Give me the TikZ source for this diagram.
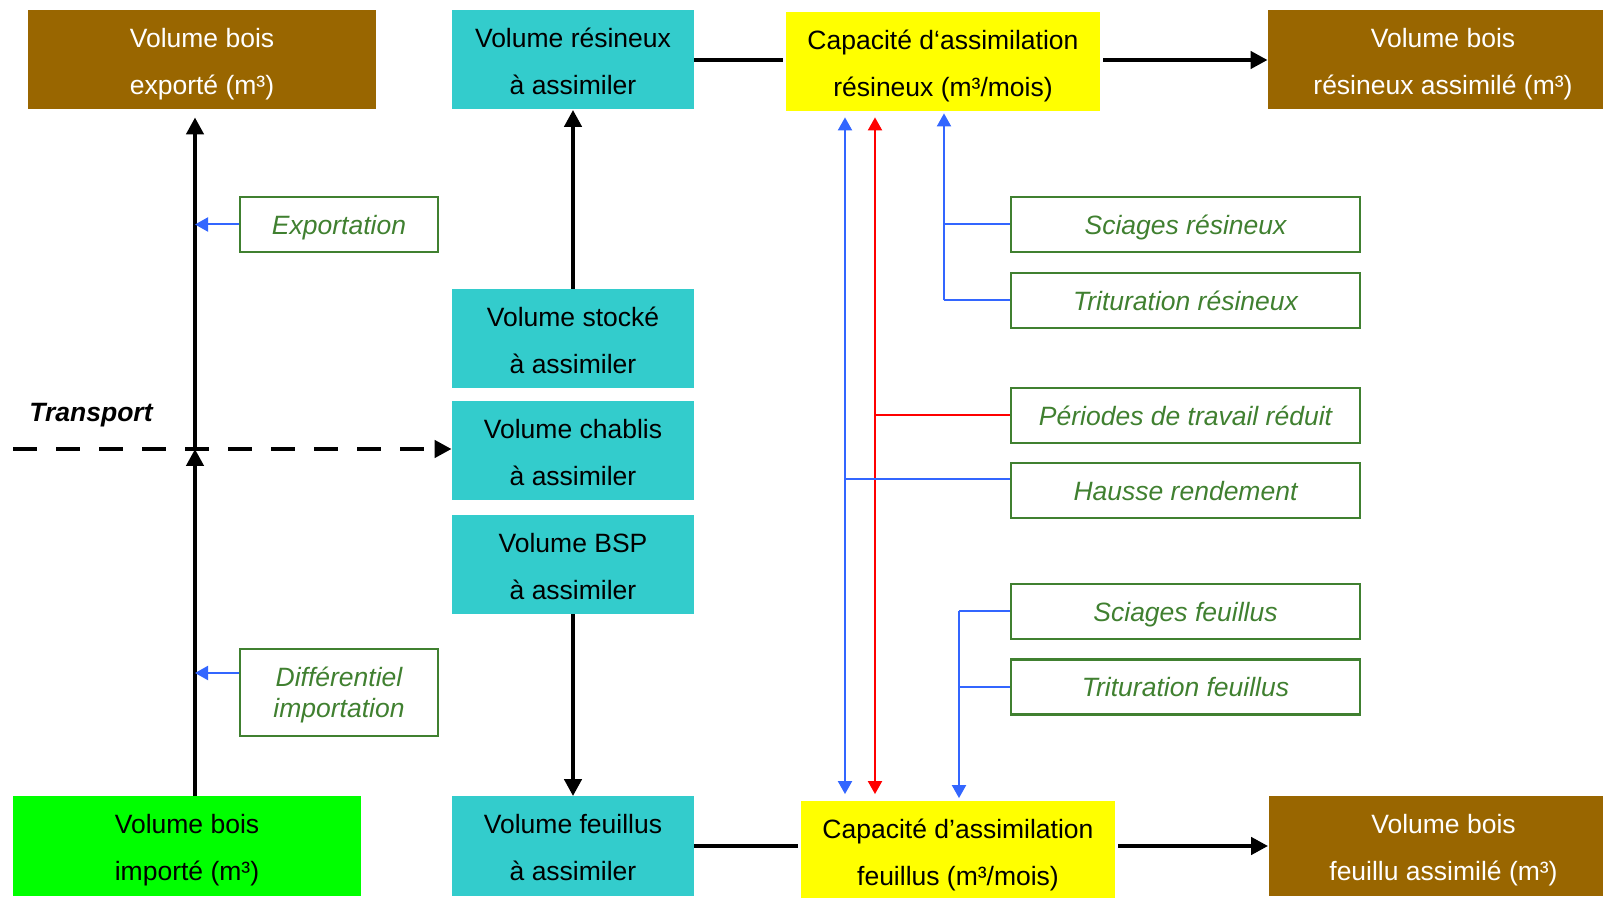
\documentclass[tikz,border=0pt]{standalone}
\usepackage{fontspec}
\setmainfont{Liberation Sans}
\usetikzlibrary{arrows.meta}
\definecolor{brun}{RGB}{153,102,0}
\definecolor{turq}{RGB}{51,204,204}
\definecolor{jaune}{RGB}{255,255,0}
\definecolor{vif}{RGB}{0,255,0}
\definecolor{vert}{RGB}{64,128,48}
\definecolor{bleu}{RGB}{51,102,255}
\tikzset{
	boite/.style={minimum height=49.5pt, inner sep=0pt, align=center,
		text height=35pt, text depth=0.3pt,
		font=\fontsize{13.25}{23.5}\selectfont},
	bois/.style={boite, fill=brun, text=white, minimum width=174pt},
	vol/.style={boite, fill=turq, minimum width=121pt},
	capac/.style={boite, fill=jaune, minimum width=157pt},
	levier/.style={draw=vert, line width=1.2pt, text=vert, inner sep=0pt,
		minimum width=174.5pt, minimum height=27.5pt, align=center,
		text height=10pt, text depth=0.3pt,
		font=\fontsize{13.25}{15.5}\selectfont\itshape},
	flux/.style={line width=2.3pt, -{Triangle[length=8.5pt,width=8.5pt]}},
	trait/.style={line width=2.3pt},
	lien/.style={line width=1pt, -{Triangle[length=6.5pt,width=7pt]}}
}
\newcommand{\branche}[3]{\draw[#1, line width=1pt] (#2) -- (#2 -| #3)}

\begin{document}
\begin{tikzpicture}[x=0.5pt, y=-0.5pt]
	\useasboundingbox (0,0) rectangle (1603,898);
	% colonne de gauche
	\node[bois] (exporte) at (202,59.5) {Volume bois\\exporté (m³)};
	\node[boite, fill=vif, minimum width=174pt] (importe) at (187,846) {Volume bois\\importé (m³)};
	\node[levier, minimum width=98.75pt] (expo) at (339,224.5) {Exportation};
	\node[levier, minimum width=98.75pt, minimum height=43.5pt, text height=25.5pt] (diff) at (339,692.5) {Différentiel\\importation};
	\node[font=\fontsize{13.25}{15.5}\selectfont\bfseries\itshape] (transp) at (91,415) {Transport};
	\coordinate (croix) at (195,449);
	\coordinate (tdeb) at (13,449);
	% volumes
	\node[vol] (resin) at (573,60) {Volume résineux\\à assimiler};
	\node[vol] (stocke) at (573,338.5) {Volume stocké\\à assimiler};
	\node[vol] (chablis) at (573,451) {Volume chablis\\à assimiler};
	\node[vol] (bsp) at (573,564.5) {Volume BSP\\à assimiler};
	\node[vol] (feuil) at (573,846) {Volume feuillus\\à assimiler};
	% capacites
	\node[capac] (capres) at (943,61.5) {Capacité d‘assimilation\\résineux (m³/mois)};
	\node[capac] (capfeu) at (958,851) {Capacité d’assimilation\\feuillus (m³/mois)};
	\node[bois, minimum width=175pt] (resass) at (1443,60) {Volume bois\\résineux assimilé (m³)};
	\node[bois, minimum width=175pt] (feuass) at (1443.5,846) {Volume bois\\feuillu assimilé (m³)};
	% leviers
	\node[levier] (scires) at (1185.5,224.5) {Sciages résineux};
	\node[levier] (trires) at (1185.5,300.5) {Trituration résineux};
	\node[levier] (peri) at (1185.5,415.5) {Périodes de travail réduit};
	\node[levier] (hausse) at (1185.5,490.5) {Hausse rendement};
	\node[levier] (scifeu) at (1185.5,611.5) {Sciages feuillus};
	\node[levier] (trifeu) at (1185.5,687) {Trituration feuillus};
	\coordinate (vh) at (845,0);
	\coordinate (vp) at (875,0);
	\coordinate (vr) at (944,0);
	\coordinate (vf) at (959,0);
	\coordinate (h) at ([yshift=5.75pt]hausse.west);
	\coordinate (d) at ([yshift=9.75pt]diff.west);

	% flux principaux
	\draw[flux] (importe.north -| croix) -- (croix);
	\draw[flux, shorten >=4pt] (croix) -- (exporte.south -| croix);
	\draw[flux, dash pattern=on 12pt off 9.5pt] (tdeb) -- (tdeb -| chablis.west);
	\draw[flux] (stocke) -- (resin);
	\draw[flux] (bsp) -- (feuil);
	\draw[trait, shorten >=1.5pt] (resin.east) -- (resin.east -| capres.west);
	\draw[flux, shorten <=1.5pt] (capres.east |- resin.east) -- (resass.west);
	\draw[trait, shorten >=1.5pt] (feuil.east) -- (feuil.east -| capfeu.west);
	\draw[flux, shorten <=1.5pt] (capfeu.east |- feuil.east) -- (feuass.west);

	% leviers
	\draw[lien, bleu] (expo.west) -- (expo.west -| croix);
	\draw[lien, bleu] (d) -- (d -| croix);
	\branche{bleu}{scires.west}{vr};
	\branche{bleu}{trires.west}{vr};
	\draw[lien, bleu, shorten >=1pt] (trires.west -| vr) -- (capres.south -| vr);
	\branche{red}{peri.west}{vp};
	\draw[lien, red, shorten >=3pt] (peri.west -| vp) -- (capres.south -| vp);
	\draw[lien, red, shorten >=3.5pt] (peri.west -| vp) -- (capfeu.north -| vp);
	\branche{bleu}{h}{vh};
	\draw[lien, bleu, shorten >=3pt] (h -| vh) -- (capres.south -| vh);
	\draw[lien, bleu, shorten >=3.5pt] (h -| vh) -- (capfeu.north -| vh);
	\branche{bleu}{scifeu.west}{vf};
	\branche{bleu}{trifeu.west}{vf};
	\draw[lien, bleu, shorten >=1.5pt] (scifeu.west -| vf) -- (capfeu.north -| vf);
\end{tikzpicture}
\end{document}
